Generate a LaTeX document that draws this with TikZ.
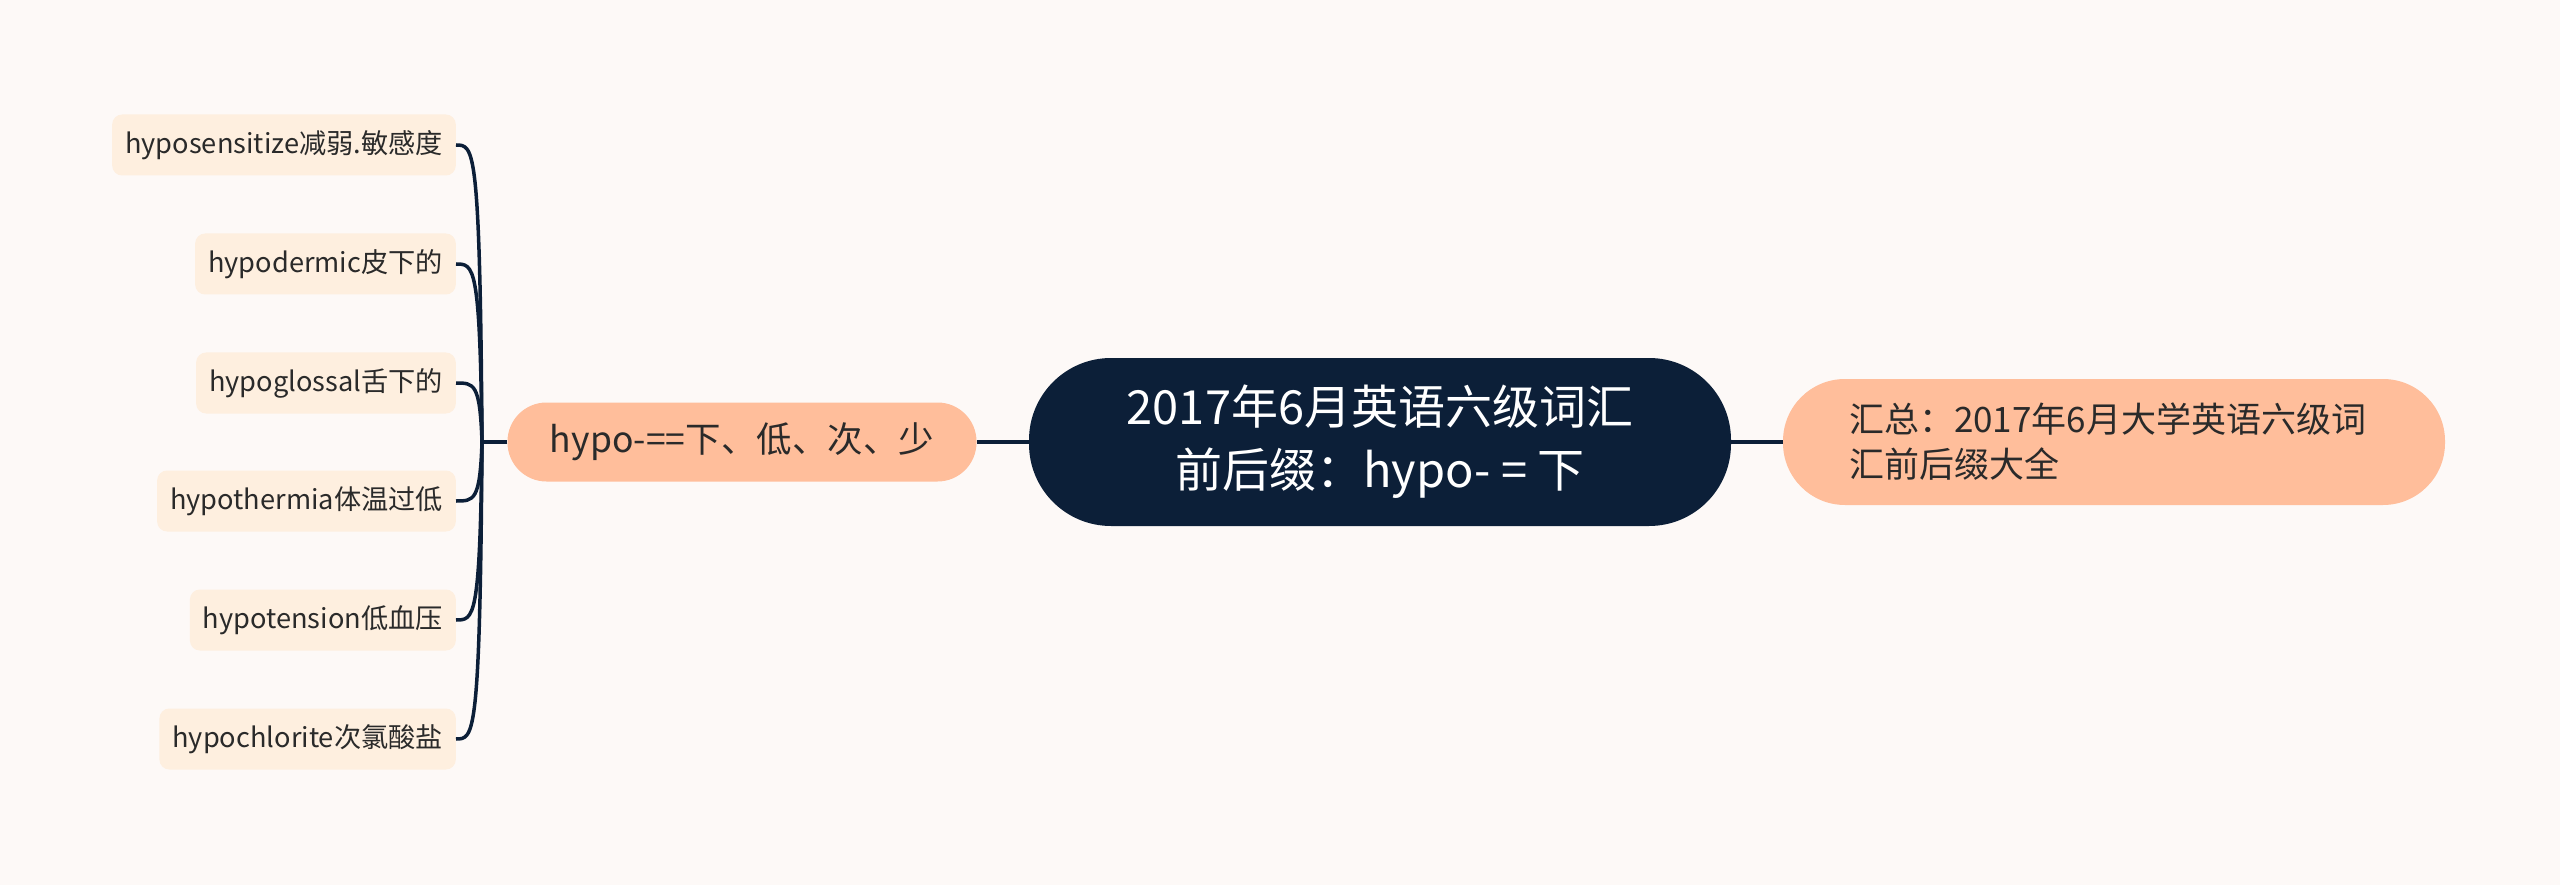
\documentclass[tikz,border=0pt]{standalone}
\usepackage{fontspec}
\setmainfont{Noto Sans CJK SC}
\definecolor{bg}{HTML}{FDF9F7}
\definecolor{navy}{HTML}{0C1F38}
\definecolor{peach}{HTML}{FFBE9B}
\definecolor{leafc}{HTML}{FEEFDF}
\definecolor{ink}{HTML}{2A2A2A}
\begin{document}
\begin{tikzpicture}[x=1pt,y=-1pt,
  centerbox/.style={fill=navy, rounded corners=82pt, minimum width=702pt, minimum height=168pt,
    text=white, font=\fontsize{47}{63}\selectfont, align=center, inner sep=0pt},
  peachbox/.style={fill=peach, text=ink, inner sep=0pt},
  leafbox/.style={fill=leafc, text=ink, rounded corners=10pt, minimum height=61pt,
    inner xsep=13pt, inner ysep=0pt, anchor=east, font=\fontsize{27.2}{30}\selectfont},
  conn/.style={draw=navy, line width=3.5pt}]
\fill[bg] (0,0) rectangle (2560,885);
\useasboundingbox (0,0) rectangle (2560,885);

\node[centerbox] (c) at (1380,442) {2017年6月英语六级词汇\\前后缀：hypo- = 下};
\node[peachbox, rounded corners=62pt, minimum width=662pt, minimum height=126pt,
  text width=530pt, align=left, font=\fontsize{35}{45}\selectfont] (r) at (2114,442)
  {汇总：2017年6月大学英语六级词\\汇前后缀大全};
\node[peachbox, rounded corners=39pt, minimum width=469pt, minimum height=79pt,
  font=\fontsize{35.5}{40}\selectfont] (m) at (742,442) {hypo-==下、低、次、少};

\node[leafbox] (l1) at (456,145) {hyposensitize减弱.敏感度};
\node[leafbox] (l2) at (456,264) {hypodermic皮下的};
\node[leafbox] (l3) at (456,383) {hypoglossal舌下的};
\node[leafbox] (l4) at (456,501) {hypothermia体温过低};
\node[leafbox] (l5) at (456,620) {hypotension低血压};
\node[leafbox] (l6) at (456,739) {hypochlorite次氯酸盐};

\draw[conn] (c.east) -- (r.west);
\draw[conn] (m.east) -- (c.west);
\coordinate (J) at (482,442);
\draw[conn] (m.west) -- (J);
\foreach \k in {1,...,6}{
  \draw[conn] (J) .. controls ([xshift=-2pt]J |- l\k.east) and ([xshift=18pt]l\k.east) .. (l\k.east);
}
\end{tikzpicture}
\end{document}
